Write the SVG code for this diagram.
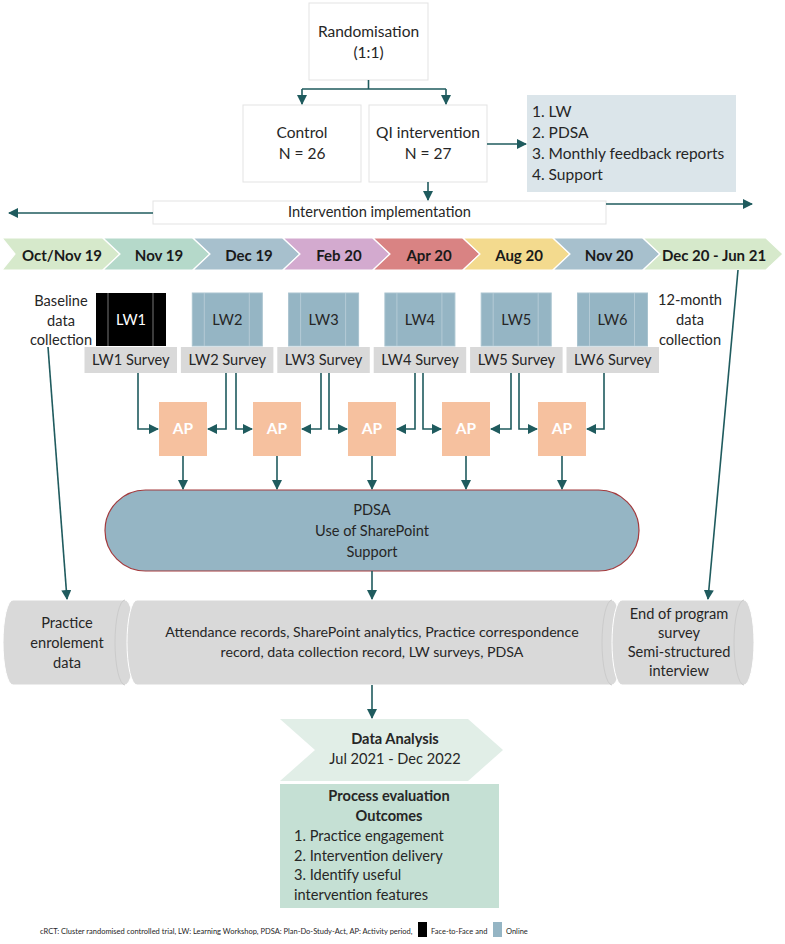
<svg xmlns="http://www.w3.org/2000/svg" width="785" height="944" viewBox="0 0 785 944">
<defs>
<marker id="ah" viewBox="0 0 10 10" refX="9" refY="5" markerWidth="10" markerHeight="10" markerUnits="userSpaceOnUse" orient="auto"><path d="M0,0 L10,5 L0,10 Z" fill="#1f5b5e"/></marker>
<style>
text{font-family:Lato,'Liberation Sans',sans-serif;font-size:14.6px;fill:#262626}
.c{text-anchor:middle}
.b{font-weight:bold}
.box{fill:#fff;stroke:#e3e3e3;stroke-width:1}
.conn{fill:none;stroke:#1f5b5e;stroke-width:1.6}
.ar{marker-end:url(#ah)}
.lwb{fill:#95b5c4;stroke:#a9c3cf;stroke-width:1}
.lwl{stroke:#b4cad5;stroke-width:1}
.sv{fill:#d9d9d9}
.ap{fill:#f6c19f}
.apt{fill:#fff;font-weight:bold;font-size:15.5px;text-anchor:middle}
.chev{stroke:#fff;stroke-width:1.2}
.tl{font-weight:bold;fill:#1a1a1a;text-anchor:middle;font-size:15px}
.cyl{fill:#d9d9d9;stroke:#fff;stroke-width:1}
.cyi{fill:none;stroke:#cbcbcb;stroke-width:1}
.ft{font-size:7.5px}
.big{font-size:15.5px}
</style>
</defs>

<g id="randomisation"><rect class="box" x="309" y="3" width="119" height="77"/><text class="c big" x="368.5" y="37">Randomisation</text><text class="c big" x="368.5" y="58">(1:1)</text></g>
<g id="control"><rect class="box" x="243" y="105" width="118" height="77"/><text class="c big" x="302" y="138">Control</text><text class="c big" x="302" y="159">N = 26</text></g>
<g id="qi"><rect class="box" x="369" y="105" width="118" height="77"/><text class="c big" x="428" y="138">QI intervention</text><text class="c big" x="428" y="159">N = 27</text></g>
<g id="components"><rect x="527" y="95" width="209" height="97" fill="#dbe5ea"/><text class="big" x="532" y="117">1. LW</text><text class="big" x="532" y="138">2. PDSA</text><text class="big" x="532" y="159">3. Monthly feedback reports</text><text class="big" x="532" y="180">4. Support</text></g>
<g id="implementation"><rect class="box" x="153" y="201" width="453" height="23"/><text class="c" x="379.5" y="217">Intervention implementation</text></g>

<g id="timeline">
<path class="chev" fill="#d6e9cb" d="M2,238 H103 L120,254 L103,270 H2 L15,254 Z"/>
<path class="chev" fill="#b5d9ca" d="M103,238 H193 L210,254 L193,270 H103 L120,254 Z"/>
<path class="chev" fill="#a7c0cd" d="M193,238 H283 L300,254 L283,270 H193 L210,254 Z"/>
<path class="chev" fill="#d3aacf" d="M283,238 H373 L390,254 L373,270 H283 L300,254 Z"/>
<path class="chev" fill="#d98383" d="M373,238 H463 L480,254 L463,270 H373 L390,254 Z"/>
<path class="chev" fill="#f3da8e" d="M463,238 H553 L570,254 L553,270 H463 L480,254 Z"/>
<path class="chev" fill="#a7c0cd" d="M553,238 H643 L660,254 L643,270 H553 L570,254 Z"/>
<path class="chev" fill="#d6e9cb" d="M643,238 H766 L783,254 L766,270 H643 L660,254 Z"/>
<text class="tl" x="62" y="261">Oct/Nov 19</text>
<text class="tl" x="159" y="261">Nov 19</text>
<text class="tl" x="249" y="261">Dec 19</text>
<text class="tl" x="339" y="261">Feb 20</text>
<text class="tl" x="429" y="261">Apr 20</text>
<text class="tl" x="519" y="261">Aug 20</text>
<text class="tl" x="609" y="261">Nov 20</text>
<text class="tl" x="714" y="261">Dec 20 - Jun 21</text>
</g>

<g id="baseline"><text class="c" x="61" y="306">Baseline</text><text class="c" x="61" y="326">data</text><text class="c" x="61" y="345">collection</text></g>
<g id="twelve-month"><text class="c" x="690" y="305">12-month</text><text class="c" x="690" y="325">data</text><text class="c" x="690" y="345">collection</text></g>

<g id="lw1"><rect x="96" y="293" width="70" height="53" fill="#000"/><line x1="108" y1="293" x2="108" y2="346" stroke="#777"/><line x1="153" y1="293" x2="153" y2="346" stroke="#777"/><text class="c" x="131" y="325" style="fill:#fff">LW1</text></g>
<g id="lw2"><rect class="lwb" x="192.3" y="293" width="70" height="53"/><line class="lwl" x1="204.3" y1="293" x2="204.3" y2="346"/><line class="lwl" x1="249.3" y1="293" x2="249.3" y2="346"/><text class="c" x="227.3" y="325">LW2</text></g>
<g id="lw3"><rect class="lwb" x="288.6" y="293" width="70" height="53"/><line class="lwl" x1="300.6" y1="293" x2="300.6" y2="346"/><line class="lwl" x1="345.6" y1="293" x2="345.6" y2="346"/><text class="c" x="323.6" y="325">LW3</text></g>
<g id="lw4"><rect class="lwb" x="384.9" y="293" width="70" height="53"/><line class="lwl" x1="396.9" y1="293" x2="396.9" y2="346"/><line class="lwl" x1="441.9" y1="293" x2="441.9" y2="346"/><text class="c" x="419.9" y="325">LW4</text></g>
<g id="lw5"><rect class="lwb" x="481.2" y="293" width="70" height="53"/><line class="lwl" x1="493.2" y1="293" x2="493.2" y2="346"/><line class="lwl" x1="538.2" y1="293" x2="538.2" y2="346"/><text class="c" x="516.2" y="325">LW5</text></g>
<g id="lw6"><rect class="lwb" x="577.5" y="293" width="70" height="53"/><line class="lwl" x1="589.5" y1="293" x2="589.5" y2="346"/><line class="lwl" x1="634.5" y1="293" x2="634.5" y2="346"/><text class="c" x="612.5" y="325">LW6</text></g>

<g id="survey1"><rect class="sv" x="84.5" y="347" width="92.5" height="26"/><text class="c" x="130.8" y="365">LW1 Survey</text></g>
<g id="survey2"><rect class="sv" x="180.9" y="347" width="92.5" height="26"/><text class="c" x="227.2" y="365">LW2 Survey</text></g>
<g id="survey3"><rect class="sv" x="277.3" y="347" width="92.5" height="26"/><text class="c" x="323.6" y="365">LW3 Survey</text></g>
<g id="survey4"><rect class="sv" x="373.7" y="347" width="92.5" height="26"/><text class="c" x="420" y="365">LW4 Survey</text></g>
<g id="survey5"><rect class="sv" x="470.1" y="347" width="92.5" height="26"/><text class="c" x="516.4" y="365">LW5 Survey</text></g>
<g id="survey6"><rect class="sv" x="566.5" y="347" width="92.5" height="26"/><text class="c" x="612.8" y="365">LW6 Survey</text></g>

<g id="ap1"><rect class="ap" x="159" y="402" width="48" height="54"/><text class="apt" x="183" y="434">AP</text></g>
<g id="ap2"><rect class="ap" x="253" y="402" width="48" height="54"/><text class="apt" x="277" y="434">AP</text></g>
<g id="ap3"><rect class="ap" x="348" y="402" width="48" height="54"/><text class="apt" x="372" y="434">AP</text></g>
<g id="ap4"><rect class="ap" x="442" y="402" width="48" height="54"/><text class="apt" x="466" y="434">AP</text></g>
<g id="ap5"><rect class="ap" x="538" y="402" width="48" height="54"/><text class="apt" x="562" y="434">AP</text></g>

<g id="pdsa"><rect x="105" y="490" width="534" height="81" rx="40.5" ry="40.5" fill="#95b5c4" stroke="#a33a3d" stroke-width="1.2"/><text class="c" x="372" y="515">PDSA</text><text class="c" x="372" y="536">Use of SharePoint</text><text class="c" x="372" y="557">Support</text></g>

<g id="enrolment"><path class="cyl" d="M13,600 H125 A10,42.5 0 0 1 125,685 H13 A10,42.5 0 0 1 13,600 Z"/><path class="cyi" d="M125,600 A10,42.5 0 0 0 125,685"/><text class="c" x="67" y="628">Practice</text><text class="c" x="67" y="648">enrolement</text><text class="c" x="67" y="668">data</text></g>
<g id="records"><path class="cyl" d="M137,600 H612 A10,42.5 0 0 1 612,685 H137 A10,42.5 0 0 1 137,600 Z"/><path class="cyi" d="M612,600 A10,42.5 0 0 0 612,685"/><text class="c" x="372" y="637" style="font-size:14.2px">Attendance records, SharePoint analytics, Practice correspondence</text><text class="c" x="372" y="657" style="font-size:14.2px">record, data collection record, LW surveys, PDSA</text></g>
<g id="endprogram"><path class="cyl" d="M622,600 H744 A10,42.5 0 0 1 744,685 H622 A10,42.5 0 0 1 622,600 Z"/><path class="cyi" d="M744,600 A10,42.5 0 0 0 744,685"/><text class="c" x="679" y="619">End of program</text><text class="c" x="679" y="638">survey</text><text class="c" x="679" y="657">Semi-structured</text><text class="c" x="679" y="676">interview</text></g>

<g id="analysis"><path d="M280,719 H468 L503,750 L468,781 H280 L315,750 Z" fill="#e1eee7"/><text class="c b" x="395" y="744">Data Analysis</text><text class="c" x="395" y="764">Jul 2021 - Dec 2022</text></g>
<g id="outcomes"><rect x="280" y="784" width="219" height="124" fill="#c5e0d4"/><text class="c b" x="389" y="801">Process evaluation</text><text class="c b" x="389" y="821">Outcomes</text><text x="294" y="841">1. Practice engagement</text><text x="294" y="861">2. Intervention delivery</text><text x="294" y="880">3. Identify useful</text><text x="294" y="900">intervention features</text></g>

<g id="connectors">
<path class="conn" d="M368.5,80 V89 M302,89 H446"/>
<path class="conn ar" d="M302,89 V104"/>
<path class="conn ar" d="M446,89 V104"/>
<path class="conn ar" d="M487,144 H526"/>
<path class="conn ar" d="M428,182 V200"/>
<path class="conn ar" d="M153,213 H9"/>
<path class="conn ar" d="M606,204 H752"/>
<path class="conn ar" d="M48,347 L67,599"/>
<path class="conn ar" d="M738,270 L708,599"/>
<path class="conn ar" d="M138,373 V429 H158"/>
<path class="conn ar" d="M226,373 V429 H208"/>
<path class="conn ar" d="M236,373 V429 H252"/>
<path class="conn ar" d="M321,373 V429 H302"/>
<path class="conn ar" d="M329,373 V429 H347"/>
<path class="conn ar" d="M415,373 V429 H397"/>
<path class="conn ar" d="M423,373 V429 H441"/>
<path class="conn ar" d="M511,373 V429 H491"/>
<path class="conn ar" d="M519,373 V429 H537"/>
<path class="conn ar" d="M604,373 V429 H587"/>
<path class="conn ar" d="M183,456 V489"/>
<path class="conn ar" d="M277,456 V489"/>
<path class="conn ar" d="M372,456 V489"/>
<path class="conn ar" d="M466,456 V489"/>
<path class="conn ar" d="M562,456 V489"/>
<path class="conn ar" d="M372,571 V599"/>
<path class="conn ar" d="M372,685 V718"/>
</g>

<g id="footer">
<text class="ft" x="40" y="934">cRCT: Cluster randomised controlled trial, LW: Learning Workshop, PDSA: Plan-Do-Study-Act, AP: Activity period,</text>
<rect x="418" y="922" width="9" height="15" fill="#000"/>
<text class="ft" x="431" y="934">Face-to-Face and</text>
<rect x="493" y="922" width="9" height="15" fill="#95b5c4"/>
<text class="ft" x="506" y="934">Online</text>
</g>
</svg>
